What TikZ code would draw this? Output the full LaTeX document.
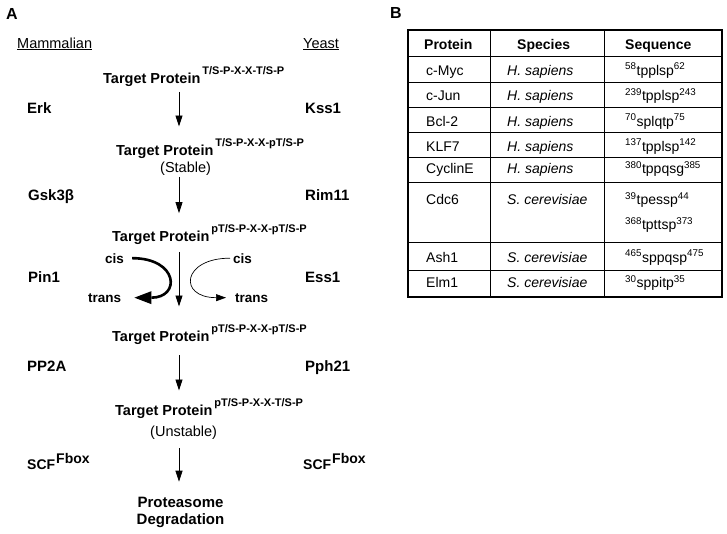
\documentclass[tikz,border=0pt]{standalone}
\usepackage{fontspec}
\setmainfont{Liberation Sans}
\usetikzlibrary{arrows.meta}
\tikzstyle{lbl} = [anchor=base west,inner sep=0pt,font=\fontsize{15}{17}\selectfont\bfseries]
\tikzstyle{prot} = [anchor=base west,inner sep=0pt,font=\fontsize{14.5}{17}\selectfont\bfseries]
\tikzstyle{note} = [anchor=base west,inner sep=0pt,font=\fontsize{14.5}{17}\selectfont]
\tikzstyle{iso} = [anchor=base west,inner sep=0pt,font=\fontsize{13.5}{16}\selectfont\bfseries]
\tikzstyle{cell} = [anchor=base west,inner sep=0pt,font=\fontsize{14}{16}\selectfont]
\tikzstyle{head} = [cell,font=\fontsize{14}{16}\selectfont\bfseries]
\tikzstyle{flow} = [-{Triangle[length=11pt,width=7pt]},line width=0.8pt]
\tikzstyle{grid} = [line width=0.8pt]
\newcommand{\tgt}[1]{Target Protein\hspace{2pt}\raisebox{8.5pt}{\fontsize{11}{12}\selectfont #1}}
\newcommand{\sq}[3]{\textsuperscript{#1}#2\textsuperscript{#3}}

\begin{document}
\begin{tikzpicture}[x=1pt,y=-1pt]
  \useasboundingbox (0,0) rectangle (727,533);

  %panel A
  \node[lbl,font=\fontsize{16}{18}\selectfont\bfseries] (lblA) at (6,19) {A};
  \node[note] (mamm) at (17,48) {\underline{Mammalian}};
  \node[note] (yeast) at (303,48) {\underline{Yeast}};
  \coordinate (axis) at (179,0);

  %target protein states
  \node[prot] (tp1) at (103,83) {\tgt{T/S-P-X-X-T/S-P}};
  \node[prot] (tp2) at (116,155) {\tgt{T/S-P-X-X-pT/S-P}};
  \node[note] (stable) at (160,172) {(Stable)};
  \node[prot] (tp3) at (112,241) {\tgt{pT/S-P-X-X-pT/S-P}};
  \node[prot] (tp4) at (112,341) {\tgt{pT/S-P-X-X-pT/S-P}};
  \node[prot] (tp5) at (115,415) {\tgt{pT/S-P-X-X-T/S-P}};
  \node[note] (unstable) at (150,436) {(Unstable)};
  \node[prot,anchor=north,align=center,font=\fontsize{15}{17.5}\selectfont\bfseries] (degr) at (180.5,496.5) {Proteasome\\Degradation};

  %enzymes
  \node[lbl] (erk) at (27,113) {Erk};
  \node[lbl] (kss) at (305,113) {Kss1};
  \node[lbl] (gsk) at (28,200) {Gsk3β};
  \node[lbl] (rim) at (305,200) {Rim11};
  \node[lbl] (pin) at (28,282) {Pin1};
  \node[lbl] (ess) at (305,282) {Ess1};
  \node[lbl] (pp) at (27,371) {PP2A};
  \node[lbl] (pph) at (305,371) {Pph21};
  \node[iso,font=\fontsize{14}{16}\selectfont\bfseries] (scfL) at (27,469) {SCF\hspace{1pt}\raisebox{6pt}{Fbox}};
  \node[iso,font=\fontsize{14}{16}\selectfont\bfseries] (scfR) at (303,469) {SCF\hspace{1pt}\raisebox{6pt}{Fbox}};

  %isomerisation
  \node[iso] (cisL) at (105,263) {cis};
  \node[iso] (transL) at (88,302) {trans};
  \node[iso] (cisR) at (233,263) {cis};
  \node[iso] (transR) at (235,302) {trans};

  %draw the arrows
  \draw[flow,shorten <=5.7pt,shorten >=11.8pt] (tp1.south -| axis) -- (tp2.north -| axis);
  \draw[flow,shorten <=1.7pt,shorten >=11.2pt] (stable.south -| axis) -- (tp3.north -| axis);
  \draw[flow,shorten <=7.7pt,shorten >=17.8pt] (tp3.south -| axis) -- (tp4.north -| axis);
  \draw[flow,shorten <=11pt,shorten >=7.8pt] (tp4.south -| axis) -- (tp5.north -| axis);
  \draw[flow,shorten <=9pt,shorten >=14.8pt] (unstable.south -| axis) -- (degr.north -| axis);
  \draw[line width=2.6pt,-{Triangle[length=17pt,width=13pt,line width=0pt]}] ([xshift=8pt]cisL.east) to[out=0,in=0,looseness=3] ([xshift=13pt]transL.east);
  \draw[line width=0.7pt,-{Triangle[length=10pt,width=7pt]}] ([xshift=-3pt]cisR.west) to[out=180,in=180,looseness=3.1] ([xshift=-9pt]transR.west);

  %panel B
  \node[lbl,font=\fontsize{16}{18}\selectfont\bfseries] (lblB) at (390,18) {B};
  \draw[line width=1.1pt] (408,30) rectangle (722,297);
  \foreach \y in {56,82,107,132,157,182,242,270}
    \draw[grid] (408,\y) -- (722,\y);
  \foreach \x in {490,604}
    \draw[grid] (\x,30) -- (\x,297);

  \node[head] (hprot) at (424,49.5) {Protein};
  \node[head] (hspec) at (517,49.5) {Species};
  \node[head] (hseq) at (625,49.5) {Sequence};
  \foreach \nm/\y/\prot/\spec/\seq in {
      myc/75/c-Myc/H. sapiens/{\sq{58}{tpplsp}{62}},
      jun/100.5/c-Jun/H. sapiens/{\sq{239}{tpplsp}{243}},
      bcl/126/Bcl-2/H. sapiens/{\sq{70}{splqtp}{75}},
      klf/151/KLF7/H. sapiens/{\sq{137}{tpplsp}{142}},
      cyc/173.5/CyclinE/H. sapiens/{\sq{380}{tppqsg}{385}},
      cdc/204.5/Cdc6/S. cerevisiae/{\sq{39}{tpessp}{44}},
      ash/262/Ash1/S. cerevisiae/{\sq{465}{sppqsp}{475}},
      elm/287.5/Elm1/S. cerevisiae/{\sq{30}{sppitp}{35}}} {
    \node[cell] (p\nm) at (426,\y) {\prot};
    \node[cell] (s\nm) at (507,\y) {\itshape\spec};
    \node[cell] (q\nm) at (625,\y) {\seq};
  }
  \node[cell] (qcdcb) at (625,229.5) {\sq{368}{tpttsp}{373}};
\end{tikzpicture}
\end{document}
